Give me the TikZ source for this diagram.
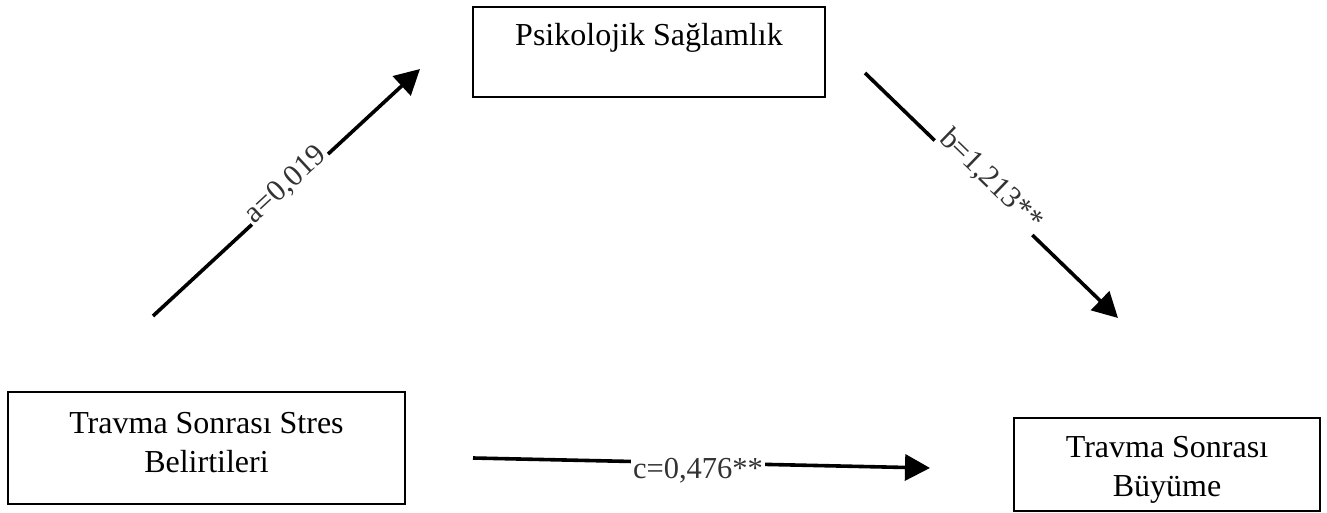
\documentclass[tikz,border=0pt]{standalone}
\usepackage{fontspec}
\setmainfont{Liberation Serif}
\usetikzlibrary{arrows.meta}
\begin{document}
\begin{tikzpicture}[x=1pt,y=-1pt,
  boxshape/.style={draw, line width=2.5pt, rectangle, inner sep=0pt},
  boxtext/.style={font=\fontsize{32}{39}\selectfont, align=center, inner sep=0pt},
  arr/.style={line width=3.6pt, -{Triangle[length=25pt,width=26pt]}},
  lbl/.style={fill=white, inner sep=2pt, font=\fontsize{30.5}{32}\selectfont, text=black!80}
]
\useasboundingbox (0,0) rectangle (1327,513);

% boxes
\node[boxshape, minimum width=352pt, minimum height=90pt] (ps) at (649,52) {};
\node[boxtext] (pstext) at (649,38) {Psikolojik Sağlamlık};

\node[boxshape, minimum width=397pt, minimum height=112pt] (tssb) at (206.5,448) {};
\node[boxtext] (tssbtext) at (206.5,442.5) {Travma Sonrası Stres\\Belirtileri};

\node[boxshape, minimum width=306pt, minimum height=93pt] (tsb) at (1167,464.5) {};
\node[boxtext] (tsbtext) at (1167,469.5) {Travma Sonrası\\Büyüme};

% arrow end points
\coordinate (a0) at (153,316);
\coordinate (a1) at (420,69);
\coordinate (b0) at (865,73);
\coordinate (b1) at (1118,318);
\coordinate (c0) at (473,458);
\coordinate (c1) at (930,468);

\draw[arr] (a0) -- (a1);
\draw[arr] (b0) -- (b1);
\draw[arr] (c0) -- (c1);

% labels
\node[lbl, rotate=42.8] (alabel) at (286,185) {a=0,019};
\node[lbl, rotate=-44.1] (blabel) at (991,180) {b=1,213**};
\node[lbl] (clabel) at (698,471) {c=0,476**};
\end{tikzpicture}
\end{document}
